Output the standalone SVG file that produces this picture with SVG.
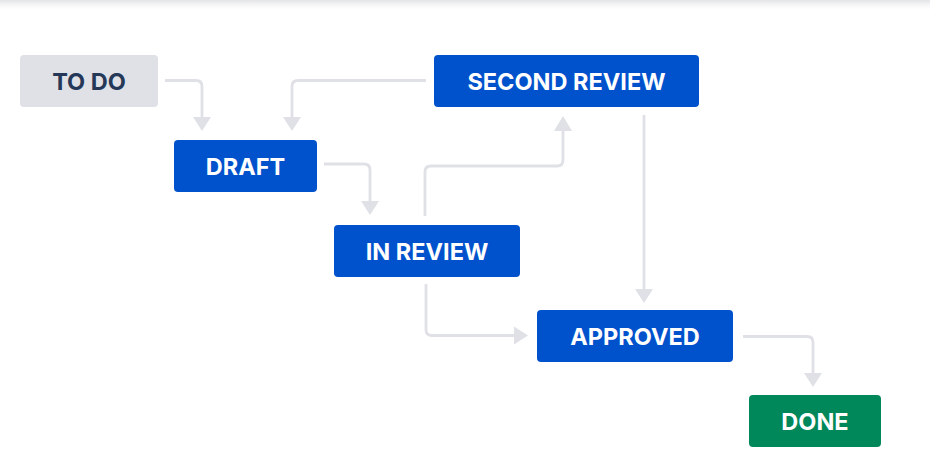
<svg xmlns="http://www.w3.org/2000/svg" width="930" height="473" viewBox="0 0 930 473">
<defs>
<linearGradient id="topShade" x1="0" y1="0" x2="0" y2="1">
<stop offset="0" stop-color="#e2e3e6"/>
<stop offset="1" stop-color="#ffffff" stop-opacity="0"/>
</linearGradient>
<style>
.node rect{rx:4;ry:4}
.blue rect{fill:#0052CC}
.grey rect{fill:#DFE1E6}
.green rect{fill:#00875A}
.node text{font-family:Inter,"Liberation Sans",Arial,sans-serif;font-weight:700;font-size:23.5px;text-anchor:middle;dominant-baseline:central;fill:#FFFFFF}
.grey text{fill:#253858}
.conn path{fill:none;stroke:#DFE1E6;stroke-width:2.8;stroke-linejoin:round}
.conn polygon{fill:#DFE1E6}
</style>
</defs>
<rect width="930" height="473" fill="#FFFFFF"/>
<rect width="930" height="12" fill="url(#topShade)"/>
<g id="connectors" class="conn">
<path d="M165,80.5 H196 Q202,80.5 202,86.5 V118"/>
<polygon points="193,117 211,117 202,131"/>
<path d="M426,80.5 H298 Q292,80.5 292,86.5 V118"/>
<polygon points="283,117 301,117 292,131"/>
<path d="M324,164 H364 Q370,164 370,170 V202"/>
<polygon points="361,201 379,201 370,215"/>
<path d="M425,216 V172 Q425,166 431,166 H557 Q563,166 563,160 V128"/>
<polygon points="554,131 572,131 563,116"/>
<path d="M426,284 V329.5 Q426,335.5 432,335.5 H515"/>
<polygon points="514,326.5 514,344.5 528,335.5"/>
<path d="M644,115 V290"/>
<polygon points="635,289 653,289 644,303"/>
<path d="M743,336.5 H807 Q813,336.5 813,342.5 V374"/>
<polygon points="804,373 822,373 813,387"/>
</g>
<g id="node-todo" class="node grey"><rect x="20" y="55" width="138" height="52"/><text x="89" y="81">TO DO</text></g>
<g id="node-draft" class="node blue"><rect x="174" y="140" width="143" height="52"/><text x="245.5" y="166">DRAFT</text></g>
<g id="node-second-review" class="node blue"><rect x="434" y="55" width="265" height="52"/><text x="566.5" y="81">SECOND REVIEW</text></g>
<g id="node-in-review" class="node blue"><rect x="334" y="225" width="186" height="52"/><text x="427" y="251">IN REVIEW</text></g>
<g id="node-approved" class="node blue"><rect x="537" y="310" width="196" height="52"/><text x="635" y="336">APPROVED</text></g>
<g id="node-done" class="node green"><rect x="749" y="395" width="132" height="52"/><text x="815" y="421">DONE</text></g>
</svg>
